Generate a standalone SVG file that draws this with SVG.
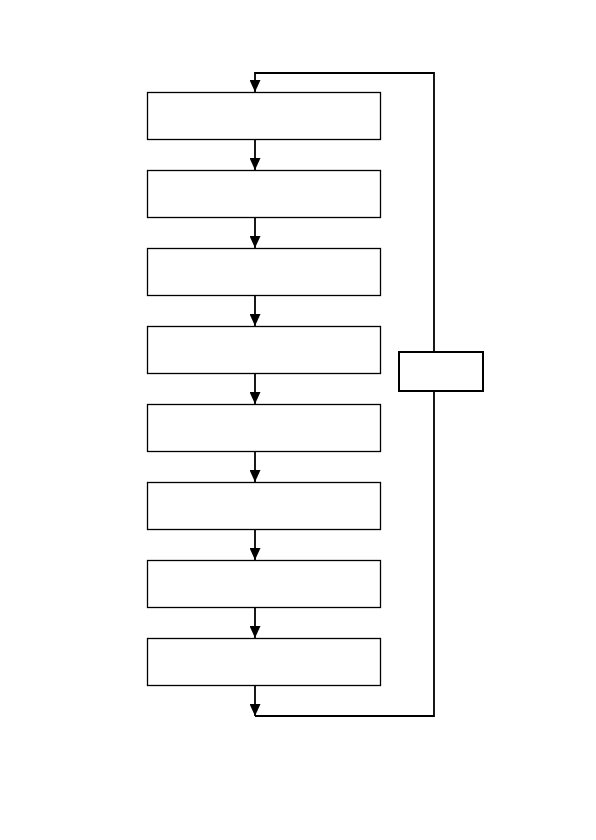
<svg xmlns="http://www.w3.org/2000/svg" width="596" height="840" viewBox="0 0 596 840">
<style>
.box{fill:#fff;stroke:#000;stroke-width:1.3}
.side{fill:#fff;stroke:#000;stroke-width:2}
.ln{fill:none;stroke:#000;stroke-width:1.8}
</style>
<defs>
<marker id="a" markerUnits="userSpaceOnUse" markerWidth="12" markerHeight="11" refX="12" refY="5.5" orient="auto" viewBox="0 0 12 11">
<path d="M0,0 L12,5.5 L0,11 Z" fill="#000"/>
</marker>
</defs>
<rect width="596" height="840" fill="#fff"/>
<g id="connectors">
<path class="ln" d="M434,352 V73 H255 V92" marker-end="url(#a)"/>
<path class="ln" d="M255,140 V170" marker-end="url(#a)"/>
<path class="ln" d="M255,218 V248" marker-end="url(#a)"/>
<path class="ln" d="M255,296 V326" marker-end="url(#a)"/>
<path class="ln" d="M255,374 V404" marker-end="url(#a)"/>
<path class="ln" d="M255,452 V482" marker-end="url(#a)"/>
<path class="ln" d="M255,530 V560" marker-end="url(#a)"/>
<path class="ln" d="M255,608 V638" marker-end="url(#a)"/>
<path class="ln" d="M255,686 V716" marker-end="url(#a)"/>
<path class="ln" d="M255,716 H434 V391"/>
</g>
<g id="n1"><rect class="box" x="147.5" y="92.5" width="233" height="47"/></g>
<g id="n2"><rect class="box" x="147.5" y="170.5" width="233" height="47"/></g>
<g id="n3"><rect class="box" x="147.5" y="248.5" width="233" height="47"/></g>
<g id="n4"><rect class="box" x="147.5" y="326.5" width="233" height="47"/></g>
<g id="n5"><rect class="box" x="147.5" y="404.5" width="233" height="47"/></g>
<g id="n6"><rect class="box" x="147.5" y="482.5" width="233" height="47"/></g>
<g id="n7"><rect class="box" x="147.5" y="560.5" width="233" height="47"/></g>
<g id="n8"><rect class="box" x="147.5" y="638.5" width="233" height="47"/></g>
<g id="side"><rect class="side" x="399" y="352" width="84" height="39"/></g>
</svg>
